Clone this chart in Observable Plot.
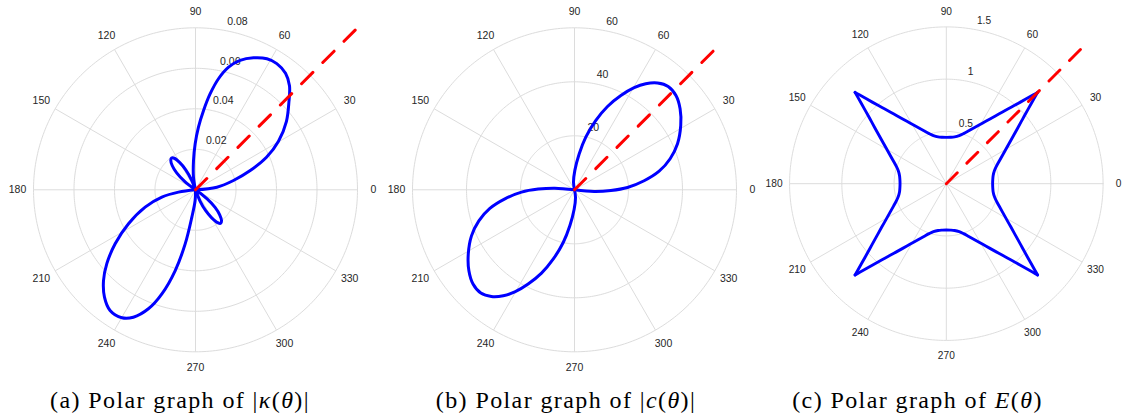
<!DOCTYPE html>
<html><head><meta charset="utf-8">
<script src="https://cdn.jsdelivr.net/npm/d3@7"></script>
<script src="https://cdn.jsdelivr.net/npm/@observablehq/plot@0.6"></script>
<style>
html,body{margin:0;padding:0;background:#fff;}
#wrap{position:relative;width:1130px;height:419px;overflow:hidden;}
.panel{position:absolute;top:0;}
.cap{position:absolute;top:388px;width:400px;text-align:center;font-family:"Liberation Serif","Times New Roman",serif;font-size:24px;letter-spacing:1.4px;line-height:24px;color:#000;white-space:nowrap;}
</style></head><body><div id="wrap"></div>
<script>
// ---------- shared ----------
const angleTicks = [0, 30, 60, 90, 120, 150, 180, 210, 240, 270, 300, 330];

// ---------- (a) |kappa(theta)| : two big lobes and two small petals ----------
const kappaTheta = [
  0, 6.9, 13.8, 19.4, 24.6, 30.3, 37.0, 43.3, 47.9, 52.3, 57.2, 61.4, 66.3, 71.0, 74.9, 78.3, 81.3, 84.2, 87.3, 90.4, 93.9, 99, 103,
  108, 112, 116, 120, 124, 127, 130, 134, 138, 142, 146,
  183, 187.8, 192.3, 199, 206.9, 213.9, 219.8, 224.6, 229.7, 234.7, 240.1, 244, 248.4, 252.1, 255.9, 259.2, 262.4, 268, 272,
  288, 292, 296, 300, 304, 307, 310, 314, 318, 322, 326];
const kappaR = [
  0, 0.01065, 0.0193, 0.02865, 0.03856, 0.04747, 0.05624, 0.0634, 0.06923, 0.0727, 0.0741, 0.0737, 0.0712, 0.0676, 0.0627, 0.056, 0.048, 0.0394, 0.031, 0.0227, 0.0145, 0.0064, 0,
  0, 0.0055, 0.011, 0.0155, 0.0188, 0.0196, 0.019, 0.0165, 0.0125, 0.007, 0,
  0, 0.0085, 0.017, 0.0263, 0.0371, 0.0478, 0.057, 0.0638, 0.0695, 0.073, 0.0729, 0.070, 0.0632, 0.054, 0.0411, 0.0272, 0.0136, 0.0053, 0,
  0, 0.006, 0.0115, 0.016, 0.0196, 0.0207, 0.020, 0.0172, 0.013, 0.0073, 0];
const kappaSeg = [
  0,0,0,0,0,0,0,0,0,0,0,0,0,0,0,0,0,0,0,0,0,0,0,
  1,1,1,1,1,1,1,1,1,1,1,
  2,2,2,2,2,2,2,2,2,2,2,2,2,2,2,2,2,2,2,
  3,3,3,3,3,3,3,3,3,3,3];
const kappaRepeat = [0];
const kappaRTicks = [0.02, 0.04, 0.06, 0.08];
const kappaRLabels = ["0.02", "0.04", "0.06", "0.08"];
const kappaDashEnd = 0.1115;

// ---------- (b) |c(theta)| : one lobe, repeated at +180 ----------
const cTheta = [0, -4.8, -1.1, 2.5, 7.4, 12.4, 18, 24.1, 31.2, 37.5, 42.9, 47.8, 52.1, 56.1, 59.7, 63.8, 68.4, 72.9, 77.9, 82.6, 89, 97.4, 100];
const cR     = [0, 7.3, 13.46, 19.65, 26.0, 32.1, 37.25, 41.8, 46.0, 49.3, 51.3, 51.65, 50.1, 47.3, 43.8, 38.9, 33.2, 26.9, 19.95, 13.4, 7.2, 2.9, 0];
const cSeg   = [0,0,0,0,0,0,0,0,0,0,0,0,0,0,0,0,0,0,0,0,0,0,0];
const cRepeat = [0, 180];
const cRTicks = [20, 40, 60];
const cRLabels = ["20", "40", "60"];
const cDashEnd = 73.9;

// ---------- (c) E(theta) : one arm (-45..45), repeated every 90 ----------
const eTheta = [-45, -44.4, -43.3, -41, -39.5, -37, -34, -31, -27, -23, -19, -15, -10, -5, 0, 5, 10, 15, 19, 23, 27, 31, 34, 37, 39.5, 41, 43.3, 44.4, 45];
const eR     = [1.235, 1.19, 1.115, 0.99, 0.925, 0.834, 0.747, 0.677, 0.605, 0.549, 0.506, 0.476, 0.455, 0.446, 0.443, 0.446, 0.455, 0.476, 0.506, 0.549, 0.605, 0.677, 0.747, 0.834, 0.925, 0.99, 1.115, 1.19, 1.235];
const eSeg   = eTheta.map(() => 0);
const eRepeat = [0, 90, 180, 270];
const eRTicks = [0.5, 1, 1.5];
const eRLabels = ["0.5", "1", "1.5"];
const eDashEnd = 1.84;

const rad = d => d * Math.PI / 180;
const GRID = "#dcdcdc", TXT = "#262626";
const W = 380, H = 380, CX = 190, CY = 189.3, RPX = 162;

function makePanel(p) {
  const rmax = p.rTicks[p.rTicks.length - 1];
  const curve = [];
  p.repeat.forEach(rep => p.theta.forEach((t, i) => curve.push({
    x: p.r[i] * Math.cos(rad(t + rep)), y: p.r[i] * Math.sin(rad(t + rep)), z: rep + "-" + p.seg[i]
  })));
  const rings = [];
  p.rTicks.forEach(t => d3.range(0, 361, 1).forEach(a => rings.push({x: t * Math.cos(rad(a)), y: t * Math.sin(rad(a)), z: t})));
  const spokes = angleTicks.map(a => ({x1: 0, y1: 0, x2: rmax * Math.cos(rad(a)), y2: rmax * Math.sin(rad(a))}));
  const alab = angleTicks.map(a => ({x: rmax * 1.099 * Math.cos(rad(a)), y: rmax * 1.099 * Math.sin(rad(a)), text: String(a)}));
  const rlab = p.rTicks.map((t, i) => ({x: t * Math.cos(rad(80)), y: t * Math.sin(rad(80)), text: p.rLabels[i]}));
  const dash = [{x: 0, y: 0}, {x: p.dashEnd * Math.cos(rad(45)), y: p.dashEnd * Math.sin(rad(45))}];
  return Plot.plot({
    width: W, height: H, margin: 0,
    x: {domain: [-rmax, rmax], range: [CX - RPX, CX + RPX], axis: null},
    y: {domain: [-rmax, rmax], range: [CY + RPX, CY - RPX], axis: null},
    style: {fontFamily: "'Liberation Sans', Arial, sans-serif", background: "transparent", overflow: "visible"},
    marks: [
      Plot.line(rings, {x: "x", y: "y", z: "z", stroke: GRID, strokeWidth: 1}),
      Plot.link(spokes, {x1: "x1", y1: "y1", x2: "x2", y2: "y2", stroke: GRID, strokeWidth: 1}),
      Plot.text(alab, {x: "x", y: "y", text: "text", fontSize: 10.5, fill: TXT, textAnchor: "middle"}),
      Plot.text(rlab, {x: "x", y: "y", text: "text", fontSize: 10.5, fill: TXT, textAnchor: "start", dx: 3.5, dy: -9}),
      Plot.line(curve, {x: "x", y: "y", z: "z", curve: "catmull-rom", stroke: "#0000ff", strokeWidth: 3, strokeLinejoin: "round", strokeLinecap: "round"}),
      Plot.line(dash, {x: "x", y: "y", stroke: "#ff0000", strokeWidth: 3, strokeDasharray: "16,14"})
    ]
  });
}

const wrap = document.getElementById("wrap");
const panels = [
  {left: 195.3 - CX, theta: kappaTheta, r: kappaR, seg: kappaSeg, repeat: kappaRepeat, rTicks: kappaRTicks, rLabels: kappaRLabels, dashEnd: kappaDashEnd},
  {left: 574 - CX, theta: cTheta, r: cR, seg: cSeg, repeat: cRepeat, rTicks: cRTicks, rLabels: cRLabels, dashEnd: cDashEnd},
  {left: 952.3 - CX, theta: eTheta, r: eR, seg: eSeg, repeat: eRepeat, rTicks: eRTicks, rLabels: eRLabels, dashEnd: eDashEnd}
];
panels.forEach(p => {
  const d = document.createElement("div");
  d.className = "panel";
  d.style.left = p.left + "px";
  d.appendChild(makePanel(p));
  wrap.appendChild(d);
});

const captions = [
  {cx: 180, html: "(a) Polar graph of |<i>κ</i>(<i>θ</i>)|"},
  {cx: 566, html: "(b) Polar graph of |<i>c</i>(<i>θ</i>)|"},
  {cx: 917.5, html: "(c) Polar graph of <i>E</i>(<i>θ</i>)"}
];
captions.forEach(c => {
  const d = document.createElement("div");
  d.className = "cap";
  d.style.left = (c.cx - 200) + "px";
  d.innerHTML = c.html;
  wrap.appendChild(d);
});
</script></body></html>
